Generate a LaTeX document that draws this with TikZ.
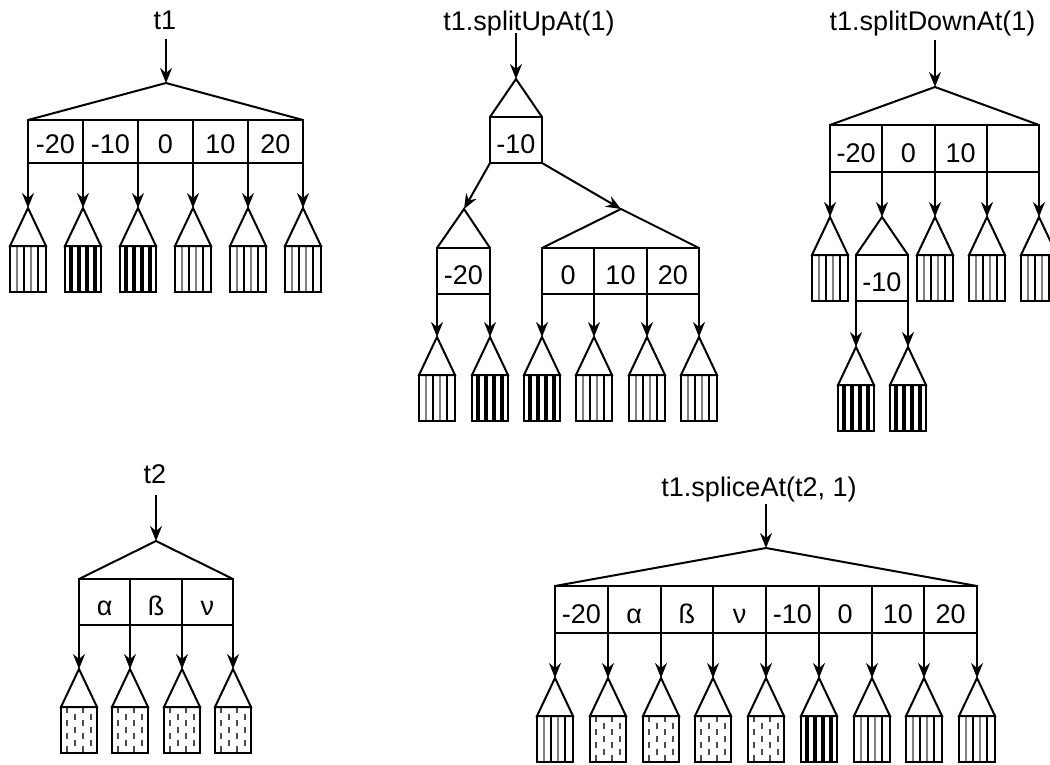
\documentclass[tikz,border=0pt]{standalone}
\usepackage{fontspec}
\setmainfont{Liberation Sans}
\usetikzlibrary{arrows.meta}
\tikzset{
  edge/.style={line width=2pt, -{Stealth[length=15pt,width=12pt,inset=5pt]}},
  outline/.style={line width=2pt, line join=miter},
  lbl/.style={font=\fontsize{27}{31}\selectfont, anchor=base, inner sep=0pt},
  greybar/.style={draw=black!50, line width=2pt},
  blackthin/.style={draw=black, line width=1.2pt},
  blackbar/.style={draw=black, line width=3.4pt},
  dashcol/.style={draw=black!70, line width=2pt, dash pattern=on 6pt off 7pt},
}
% internal node: name, xL, xR, yApex, yBase, yBot, n cells, labels
\newcommand\inode[8]{%
  \pgfmathsetmacro\xmid{round((#2+#3)/2)}%
  \pgfmathsetmacro\cw{(#3-#2)/#7}%
  \coordinate (#1-top) at (\xmid,#4);
  \draw[outline] (#2,#5) -- (#1-top) -- (#3,#5);
  \draw[outline] (#2,#5) rectangle (#3,#6);
  \foreach \i in {0,...,#7} {
    \pgfmathsetmacro\xc{round(#2+\i*\cw)}
    \coordinate (#1-\i) at (\xc,#6);
    \draw[outline] (#1-\i) -- (\xc,#5);
  }
  \foreach \l [count=\i] in {#8} {
    \node[lbl] (#1-l\i) at ({#2+(\i-0.5)*\cw},{#6-10}) {\l};
  }
}
% leaf: name, parent coordinate, yApex, pattern
\newcommand\leaf[4]{%
  \coordinate (#1) at (#2 |- 0,#3);
  \begin{scope}[shift={(#1)}]
    \csname leafpat#4\endcsname
    \draw[outline] (0,0) -- (-18,38) -- (18,38) -- cycle;
    \draw[outline] (-18,38) rectangle (18,84);
  \end{scope}
}
\newcommand\leafpatlight{%
  \foreach \u in {-11,3} \draw[greybar] (\u,38) -- (\u,84);
  \foreach \u in {-4,10} \draw[blackthin] (\u,38) -- (\u,84);
}
\newcommand\leafpatdark{%
  \foreach \u in {-12,-4,4,12} \draw[blackbar] (\u,38) -- (\u,84);
}
\newcommand\leafpatdot{%
  \foreach \u in {-12,4} \draw[dashcol] (\u,38) -- (\u,84);
  \foreach \u in {-4,12} \draw[dashcol, dash phase=6.5pt] (\u,38) -- (\u,84);
}
\begin{document}
\begin{tikzpicture}[x=1pt,y=-1pt]
\useasboundingbox (0,0) rectangle (1050,764);
\fill[white] (0,0) rectangle (1050,764);
\clip (0,0) rectangle (1050,764);

% ---------------- t1 ----------------
\node[lbl] (tA) at (165,29) {t1};
\inode{A}{28}{303}{83}{120}{163}{5}{-20,-10,0,10,20}
\coordinate (tA-s) at (A-top |- 0,39);
\draw[edge] (tA-s) -- (A-top);
\foreach \i/\p in {0/light,1/dark,2/dark,3/light,4/light,5/light} {
  \leaf{AL\i}{A-\i}{208}{\p}
  \draw[edge] (A-\i) -- (AL\i);
}

% ---------------- splitUpAt ----------------
\node[lbl] (tB) at (529,30) {t1.splitUpAt(1)};
\inode{B}{490}{542}{79}{117}{163}{1}{-10}
\coordinate (tB-s) at (B-top |- 0,33);
\draw[edge] (tB-s) -- (B-top);
\inode{BL}{437}{490}{209}{248}{294}{1}{-20}
\inode{BR}{542}{699}{209}{248}{294}{3}{0,10,20}
\draw[edge] (B-0) -- (BL-top);
\draw[edge] (B-1) -- (BR-top);
\leaf{BLL0}{BL-0}{337}{light}
\leaf{BLL1}{BL-1}{337}{dark}
\draw[edge] (BL-0) -- (BLL0);
\draw[edge] (BL-1) -- (BLL1);
\foreach \i/\p in {0/dark,1/light,2/light,3/light} {
  \leaf{BRL\i}{BR-\i}{337}{\p}
  \draw[edge] (BR-\i) -- (BRL\i);
}

% ---------------- splitDownAt ----------------
\node[lbl] (tC) at (932.5,30) {t1.splitDownAt(1)};
\inode{C}{830}{1039}{87}{125}{172}{4}{-20,0,10}
\coordinate (tC-s) at (C-top |- 0,40);
\draw[edge] (tC-s) -- (C-top);
\leaf{CL0}{C-0}{217}{light}
\draw[edge] (C-0) -- (CL0);
\inode{CM}{856}{908}{217}{255}{301}{1}{-10}
\draw[edge] (C-1) -- (CM-top);
\foreach \i in {2,3,4} {
  \leaf{CL\i}{C-\i}{217}{light}
  \draw[edge] (C-\i) -- (CL\i);
}
\leaf{CML0}{CM-0}{347}{dark}
\leaf{CML1}{CM-1}{347}{dark}
\draw[edge] (CM-0) -- (CML0);
\draw[edge] (CM-1) -- (CML1);

% ---------------- t2 ----------------
\node[lbl] (tD) at (155,483) {t2};
\inode{D}{79}{233}{541}{579}{625}{3}{α,ß,ν}
\coordinate (tD-s) at (D-top |- 0,495);
\draw[edge] (tD-s) -- (D-top);
\foreach \i in {0,1,2,3} {
  \leaf{DL\i}{D-\i}{669}{dot}
  \draw[edge] (D-\i) -- (DL\i);
}

% ---------------- spliceAt ----------------
\node[lbl] (tE) at (759,496) {t1.spliceAt(t2, 1)};
\inode{E}{555}{977}{548}{586}{633}{8}{-20,α,ß,ν,-10,0,10,20}
\coordinate (tE-s) at (E-top |- 0,504);
\draw[edge] (tE-s) -- (E-top);
\foreach \i/\p in {0/light,1/dot,2/dot,3/dot,4/dot,5/dark,6/light,7/light,8/light} {
  \leaf{EL\i}{E-\i}{678}{\p}
  \draw[edge] (E-\i) -- (EL\i);
}
\end{tikzpicture}
\end{document}
